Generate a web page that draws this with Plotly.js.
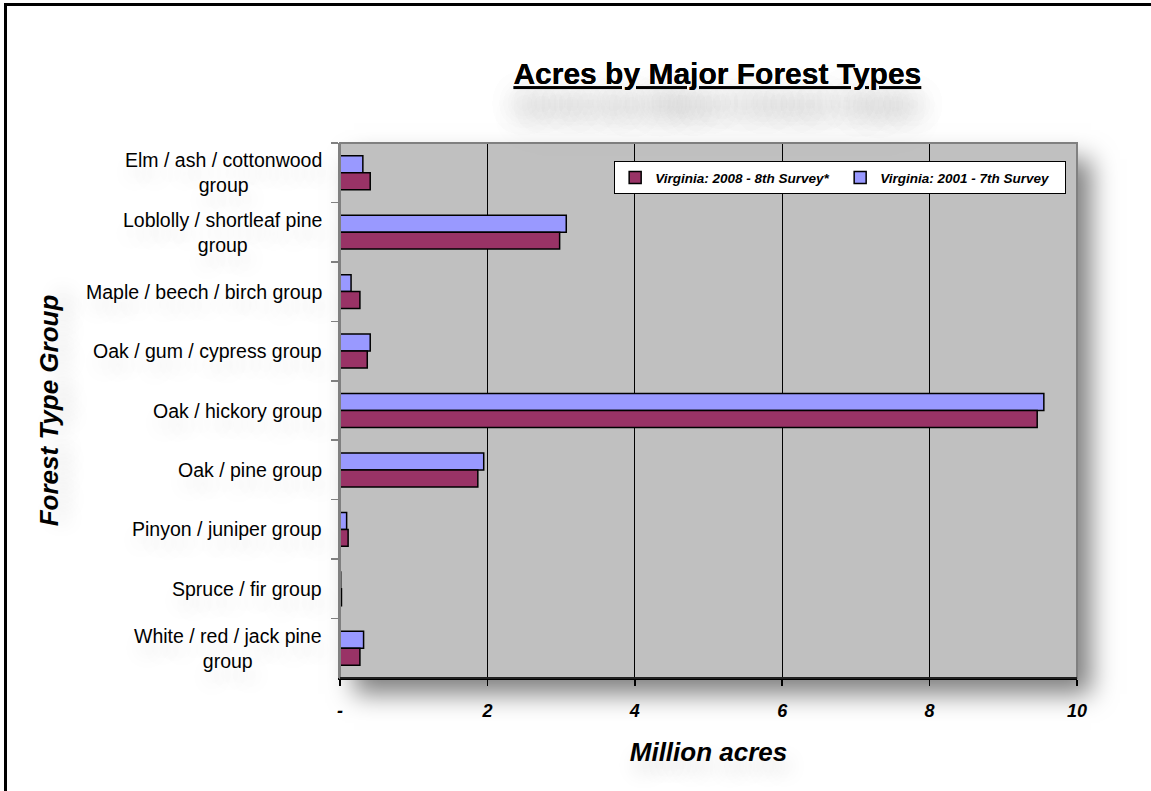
<!DOCTYPE html>
<html>
<head>
<meta charset="utf-8">
<script src="https://cdn.plot.ly/plotly-3.0.1.min.js"></script>
<style>
  html, body { margin: 0; padding: 0; background: #ffffff; overflow: hidden; }
  #wrap { position: relative; width: 1151px; height: 791px; }
  #frame { position: absolute; left: 4px; top: 3px; width: 1170px; height: 810px;
           border-top: 3px solid #000; border-left: 3px solid #000; box-sizing: border-box; }
  #plotShadow { position: absolute; left: 340px; top: 143px; width: 737px; height: 535px;
                background: #c0c0c0; box-shadow: 14px 16px 24px rgba(0,0,0,0.5); }
  #chart { position: absolute; left: 0; top: 0; }
  #chart .annotation-text, #chart .xtitle, #chart .ytitle { text-shadow: 4px 12px 20px rgba(0,0,0,0.15); }
  #chart .gtitle { text-shadow: 0 28px 30px rgba(0,0,0,0.22); }
</style>
</head>
<body>
<div id="wrap">
  <div id="frame"></div>
  <div id="plotShadow"></div>
  <div id="chart"></div>
</div>
<script>
// Forest type groups, top to bottom
const categories = [
  "Elm / ash / cottonwood group",
  "Loblolly / shortleaf pine group",
  "Maple / beech / birch group",
  "Oak / gum / cypress group",
  "Oak / hickory group",
  "Oak / pine group",
  "Pinyon / juniper group",
  "Spruce / fir group",
  "White / red / jack pine group"
];
const categoryLabels = [
  "Elm / ash / cottonwood<br>group",
  "Loblolly / shortleaf pine<br>group",
  "Maple / beech / birch group",
  "Oak / gum / cypress group",
  "Oak / hickory group",
  "Oak / pine group",
  "Pinyon / juniper group",
  "Spruce / fir group",
  "White / red / jack pine<br>group"
];
// Million acres
const survey2008 = [0.41, 2.98, 0.27, 0.37, 9.46, 1.87, 0.11, 0.02, 0.27];
const survey2001 = [0.31, 3.07, 0.15, 0.41, 9.55, 1.95, 0.09, 0.01, 0.32];
const seriesNames = ["Virginia: 2008 - 8th Survey*", "Virginia: 2001 - 7th Survey"];
const xTickVals = [0, 2, 4, 6, 8, 10];
const xTickText = ["-", "2", "4", "6", "8", "10"];

const FONT = '"Liberation Sans", Arial, Helvetica, sans-serif';

const traces = [
  {
    type: 'bar', orientation: 'h', name: seriesNames[1],
    y: categories, x: survey2001, legendrank: 2,
    marker: { color: '#9999FF', line: { color: '#000000', width: 1.5 } },
    hoverinfo: 'x+y'
  },
  {
    type: 'bar', orientation: 'h', name: seriesNames[0],
    y: categories, x: survey2008, legendrank: 1,
    marker: { color: '#993366', line: { color: '#000000', width: 1.5 } },
    hoverinfo: 'x+y'
  }
];

const annotations = categories.map((c, i) => ({
  xref: 'paper', x: 0, xanchor: 'right', xshift: -16,
  yref: 'y', y: c, yanchor: 'middle',
  text: categoryLabels[i], showarrow: false, align: 'center',
  font: { family: FONT, size: 19.5, color: '#000000' }
}));

const layout = {
  width: 1151, height: 791,
  margin: { l: 340, r: 74, t: 143, b: 113, pad: 0 },
  paper_bgcolor: 'rgba(0,0,0,0)',
  plot_bgcolor: '#C0C0C0',
  font: { family: FONT, color: '#000000' },
  title: {
    text: '<u>Acres by Major Forest Types</u>',
    font: { family: FONT, size: 30, weight: 'bold', color: '#000000' },
    xref: 'paper', x: 0.512, xanchor: 'center',
    yref: 'container', y: 0.907, yanchor: 'middle'
  },
  barmode: 'group', bargap: 0.43, bargroupgap: 0,
  xaxis: {
    range: [0, 10], tickvals: xTickVals, ticktext: xTickText,
    tickfont: { family: FONT, size: 18, weight: 'bold', style: 'italic', color: '#000000' },
    ticks: 'outside', ticklen: 6, tickwidth: 1.5, tickcolor: '#000000',
    ticklabelstandoff: 10,
    showline: true, linecolor: '#000000', linewidth: 1.5,
    showgrid: true, gridcolor: '#000000', gridwidth: 1.2,
    zeroline: false,
    title: {
      text: 'Million acres', standoff: 22,
      font: { family: FONT, size: 26, weight: 'bold', style: 'italic', color: '#000000' }
    }
  },
  yaxis: {
    type: 'category', autorange: 'reversed',
    tickson: 'boundaries', ticks: 'outside', ticklen: 7, tickwidth: 1.5, tickcolor: '#808080',
    showticklabels: false,
    showline: true, linecolor: '#808080', linewidth: 2,
    showgrid: false, zeroline: false,
    title: {
      text: 'Forest Type Group', standoff: 272,
      font: { family: FONT, size: 26, weight: 'bold', style: 'italic', color: '#000000' }
    }
  },
  legend: {
    orientation: 'h', x: 0.372, y: 0.966, xanchor: 'left', yanchor: 'top',
    bgcolor: '#FFFFFF', bordercolor: '#000000', borderwidth: 1,
    font: { family: FONT, size: 13.5, weight: 'bold', style: 'italic', color: '#000000' },
    entrywidth: 180, itemwidth: 30
  },
  shapes: [
    { type: 'rect', xref: 'paper', yref: 'paper', x0: 0, x1: 1, y0: 0, y1: 1,
      line: { color: '#808080', width: 2 }, layer: 'above' },
    { type: 'line', xref: 'paper', yref: 'paper', x0: 0, x1: 1, y0: 0, y1: 0,
      line: { color: '#000000', width: 1.5 }, layer: 'above' }
  ],
  annotations: annotations,
  showlegend: true
};

Plotly.newPlot('chart', traces, layout, { displayModeBar: false, staticPlot: true });
</script>
</body>
</html>
